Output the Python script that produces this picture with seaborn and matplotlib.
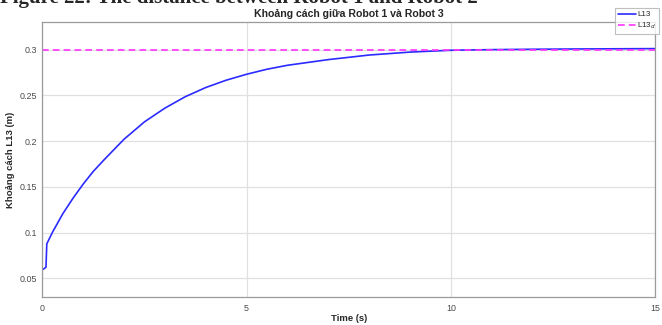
import numpy as np
import pandas as pd
import matplotlib
matplotlib.use("Agg")
import matplotlib.pyplot as plt
import seaborn as sns

# Distance between Robot 1 and Robot 3 over time
time_s = [0.0, 0.05, 0.09, 0.11, 0.25, 0.5, 0.75, 1.0, 1.25, 1.5, 2.0, 2.5,
          3.0, 3.5, 4.0, 4.5, 5.0, 5.5, 6.0, 7.0, 8.0, 9.0, 10.0, 11.0,
          12.0, 13.0, 14.0, 15.0]
l13 = [0.0595, 0.0608, 0.0622, 0.0877, 0.1005, 0.1205, 0.1375, 0.1530,
       0.1670, 0.1790, 0.2020, 0.2210, 0.2360, 0.2485, 0.2585, 0.2665,
       0.2730, 0.2785, 0.2828, 0.2890, 0.2940, 0.2972, 0.2992, 0.2999,
       0.3003, 0.3006, 0.3008, 0.3010]
l13_desired = 0.3

x_ticks = [0, 5, 10, 15]
y_ticks = [0.05, 0.1, 0.15, 0.2, 0.25, 0.3]
y_tick_labels = ["0.05", "0.1", "0.15", "0.2", "0.25", "0.3"]

df = pd.DataFrame({"t": time_s, "L13": l13})

sns.set_theme(style="white")
plt.rcParams["font.family"] = ["Liberation Sans", "DejaVu Sans"]

fig = plt.figure(figsize=(6.62, 3.25), dpi=100)
ax = fig.add_axes([0.0639, 0.0871, 0.926, 0.845])

sns.lineplot(data=df, x="t", y="L13", ax=ax, color="#2b2bff", linewidth=1.2,
             label="L13", estimator=None, sort=False)
ax.axhline(l13_desired, color="#ff33ff", linestyle=(0, (4, 2.5)), linewidth=1.2,
           label="L13$_d$")

ax.set_xlim(0, 15)
ax.set_ylim(0.03, 0.33)
ax.set_xticks(x_ticks)
ax.set_xticklabels([str(v) for v in x_ticks])
ax.set_yticks(y_ticks)
ax.set_yticklabels(y_tick_labels)
ax.grid(True, color="#e0e0e0", linewidth=0.9)
ax.set_axisbelow(True)
for s in ax.spines.values():
    s.set_color("#9a9a9a")
    s.set_linewidth(0.9)
ax.tick_params(axis="both", direction="in", length=3, color="#9a9a9a",
               labelsize=6.4, labelcolor="#4a4a4a")
ax.tick_params(axis="x", pad=5)
ax.tick_params(axis="y", pad=4)

ax.set_xlabel("Time (s)", fontsize=6.8, fontweight="bold", labelpad=1)
ax.set_ylabel("Khoảng cách L13 (m)", fontsize=6.8, fontweight="bold", labelpad=3)
ax.set_title("Khoảng cách giữa Robot 1 và Robot 3", fontsize=7.6,
             fontweight="bold", pad=3.5)

ax.get_legend().remove()
handles, labels = ax.get_legend_handles_labels()
leg = fig.legend(handles, labels, loc="upper right",
                 bbox_to_anchor=(659 / 662, 1 - 8 / 325), fontsize=5.8,
                 frameon=True, fancybox=False, handlelength=2.2,
                 handletextpad=0.2, borderpad=0.35, labelspacing=0.3,
                 borderaxespad=0)
leg.get_frame().set_edgecolor("#b0b0b0")
leg.get_frame().set_linewidth(0.8)

fig.text(0.0, 1 - 3 / 325, "Figure 22: The distance between Robot 1 and Robot 2",
         fontsize=15, fontweight="bold", family=["Liberation Serif", "DejaVu Serif"],
         va="baseline", ha="left")

fig.savefig("out.png", dpi=100)
